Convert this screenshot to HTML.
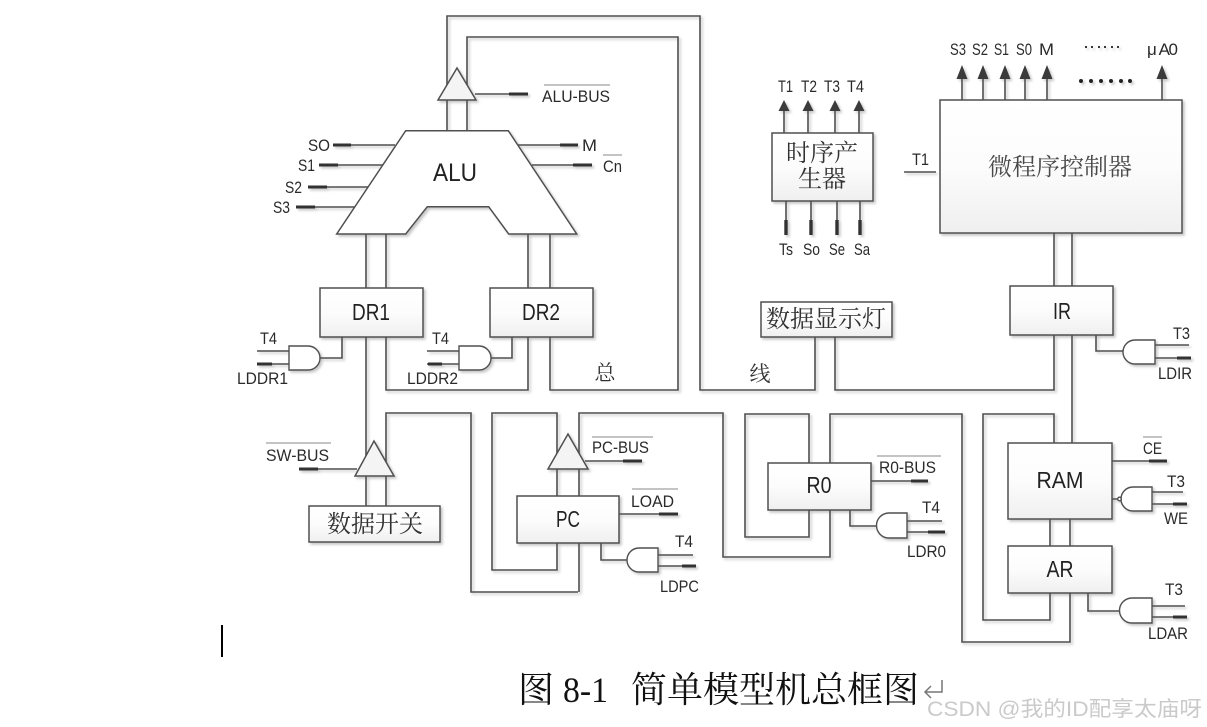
<!DOCTYPE html>
<html lang="zh">
<head>
<meta charset="utf-8">
<title>简单模型机总框图</title>
<style>
html,body{margin:0;padding:0;background:#fff;}
body{width:1207px;height:727px;overflow:hidden;}
svg{display:block;}
.l{font-family:"Liberation Sans","Noto Sans CJK SC",sans-serif;font-size:17px;fill:#2a2a2a;}
.n{font-family:"Liberation Sans","Noto Sans CJK SC",sans-serif;font-size:23px;fill:#222;text-anchor:middle;}
.z{font-family:"Liberation Serif","Noto Serif CJK SC",serif;font-size:24px;fill:#333;text-anchor:middle;}
</style>
</head>
<body>
<svg width="1207" height="727" viewBox="0 0 1207 727" xmlns="http://www.w3.org/2000/svg">
<defs>
<linearGradient id="g" x1="0" y1="0" x2="0" y2="1"><stop offset="0" stop-color="#ffffff"/><stop offset="0.5" stop-color="#fcfcfc"/><stop offset="1" stop-color="#efefef"/></linearGradient>
<filter id="s" x="-5%" y="-5%" width="110%" height="110%"><feDropShadow dx="2" dy="2" stdDeviation="1.2" flood-color="#999" flood-opacity="0.55"/></filter>
<filter id="b" x="-5%" y="-5%" width="110%" height="110%"><feGaussianBlur stdDeviation="0.35"/></filter>
</defs>
<rect width="1207" height="727" fill="#fff"/>
<g filter="url(#b)">
<g filter="url(#s)">
<g fill="none" stroke="#505050" stroke-width="1.6">
<!-- system bus -->
<path d="M447 92V16H700V390H815V337"/>
<path d="M467 92V37H678V390H550V337"/>
<path d="M447 100V131M467 100V131"/>
<path d="M366 234V288M386 234V288M528 234V288M550 234V288"/>
<path d="M386 337V390H528V337"/>
<path d="M366 337V465"/>
<path d="M835 337V390H1054V335"/>
<path d="M1054 233V286M1072 233V286"/>
<path d="M1072 335V443"/>
<!-- data switch -->
<path d="M366 476V506M386 476V506"/>
<path d="M386 476V413H471V592H578"/>
<!-- PC -->
<path d="M557 460V413H492V570H557V543"/>
<path d="M557 469V496M579 469V496"/>
<path d="M579 460V413H723V557H830V510"/>
<path d="M579 543V592"/>
<!-- R0 -->
<path d="M809 463V414H745V537H809V510"/>
<path d="M830 463V414H962V642H1070V593"/>
<!-- RAM / AR -->
<path d="M1054 443V414H983V620H1050V593"/>
<path d="M1050 519V546M1070 519V546"/>
<!-- control lines -->
<path d="M475 94H528"/>
<path d="M333 145H395M319 165H383M308 187H368M296 207H357"/>
<path d="M518 145H578M532 165H592"/>
<path d="M357 469H299M585 461H642M619 514H678M871 481H928M1112 461H1167"/>
<path d="M904 172H936"/>
<!-- timing -->
<path d="M784 133V108M808 133V108M835 133V108M859 133V108"/>
<path d="M786 201V235M811 201V235M837 201V235M860 201V235"/>
<!-- micro outputs -->
<path d="M962 100V76M983 100V76M1005 100V76M1025 100V76M1047 100V76M1162 100V76"/>
<!-- gate wires -->
<path d="M320 358H342V337M257 351H290M257 364H290"/>
<path d="M491 358H512V337M427 351H460M427 364H460"/>
<path d="M627 560H601V543M658 555H693M658 566H696"/>
<path d="M877 526H850V510M907 521H942M907 532H945"/>
<path d="M1123 351H1096V335M1155 345H1189M1155 358H1191"/>
<path d="M1112 499H1121M1152 492H1183M1152 504H1187"/>
<path d="M1120 611H1088V593M1152 606H1185M1152 617H1187"/>
</g>
<!-- thick ends -->
<g fill="none" stroke="#333" stroke-width="3">
<path d="M509 94H528M333 145H351M319 165H338M308 187H327M296 207H315M560 145H578M573 165H592"/>
<path d="M299 469H318M623 461H642M659 514H678M911 481H928M1149 461H1167"/>
<path d="M257 364H272M428 364H442M682 566H696M928 532H945M1177 358H1191M1173 504H1187M1173 617H1187"/>
<path d="M786 220V235M811 220V235M837 220V235M860 220V235" stroke-width="3.4"/>
</g>
<!-- ALU -->
<polygon points="405.7,130.7 508.3,130.7 576.7,234 508.7,234 488.7,206.7 427.3,206.7 405.7,234 336.7,234" fill="#fff" stroke="#505050" stroke-width="1.5"/>
<!-- tristate triangles -->
<g fill="#f4f4f4" stroke="#505050" stroke-width="1.5">
<polygon points="457,68 476,100 438,100"/>
<polygon points="374,441 394,476 355,476"/>
<polygon points="568,434 588,469 548,469"/>
</g>
<!-- boxes -->
<g fill="url(#g)" stroke="#505050" stroke-width="1.5">
<rect x="320" y="288" width="103" height="49"/>
<rect x="490" y="288" width="103" height="49"/>
<rect x="309" y="506" width="131" height="36"/>
<rect x="517" y="496" width="102" height="47"/>
<rect x="768" y="463" width="103" height="47"/>
<rect x="772" y="133" width="101" height="68"/>
<rect x="940" y="100" width="242" height="133"/>
<rect x="761" y="302" width="131" height="35"/>
<rect x="1010" y="286" width="103" height="49"/>
<rect x="1008" y="443" width="104" height="76"/>
<rect x="1008" y="546" width="104" height="47"/>
</g>
<!-- AND gates -->
<g fill="#fff" stroke="#505050" stroke-width="1.4">
<path d="M289 346H308A12 12 0 0 1 308 370H289Z"/>
<path d="M459 346H479A12 12 0 0 1 479 370H459Z"/>
<path d="M658 548H639A12 12 0 0 0 639 572H658Z"/>
<path d="M907 513H889A12.5 12.5 0 0 0 889 538H907Z"/>
<path d="M1155 340H1135A12 12 0 0 0 1135 364H1155Z"/>
<path d="M1152 487H1133A12 12 0 0 0 1133 511H1152Z"/>
<path d="M1152 598H1132A12.5 12.5 0 0 0 1132 623H1152Z"/>
<circle cx="1119.5" cy="499" r="1.8"/>
</g>
<!-- arrowheads -->
<g fill="#3a3a3a">
<polygon points="784,100 789.5,111 778.5,111"/><polygon points="808,100 813.5,111 802.5,111"/><polygon points="835,100 840.5,111 829.5,111"/><polygon points="859,100 864.5,111 853.5,111"/>
<polygon points="962,65 967.5,79 956.5,79"/><polygon points="983,65 988.5,79 977.5,79"/><polygon points="1005,65 1010.5,79 999.5,79"/><polygon points="1025,65 1030.5,79 1019.5,79"/><polygon points="1047,65 1052.5,79 1041.5,79"/><polygon points="1162,65 1167.5,79 1156.5,79"/>
</g>
<g fill="#222">
<circle cx="1081" cy="81" r="2"/><circle cx="1091" cy="81" r="2"/><circle cx="1101" cy="81" r="2"/><circle cx="1111" cy="81" r="2"/><circle cx="1121" cy="81" r="2"/><circle cx="1130" cy="81" r="2"/>
<circle cx="1086" cy="47" r="1.1"/><circle cx="1092" cy="47" r="1.1"/><circle cx="1099" cy="47" r="1.1"/><circle cx="1105" cy="47" r="1.1"/><circle cx="1112" cy="47" r="1.1"/><circle cx="1118" cy="47" r="1.1"/>
</g>
</g>
<!-- overlines -->
<g stroke="#8a8a8a" stroke-width="1" fill="none">
<path d="M544 85H610M603 155H622M266 443H331M592 437H653M632 489H678M877 456H941M1143 437H1162"/>
</g>
<!-- block labels -->
<text class="n" x="455" y="181" style="font-size:25px" textLength="44" lengthAdjust="spacingAndGlyphs">ALU</text>
<text class="n" x="371" y="320" textLength="38" lengthAdjust="spacingAndGlyphs">DR1</text>
<text class="n" x="541" y="320" textLength="38" lengthAdjust="spacingAndGlyphs">DR2</text>
<text class="n" x="568" y="527" textLength="24" lengthAdjust="spacingAndGlyphs">PC</text>
<text class="n" x="819" y="493" textLength="25" lengthAdjust="spacingAndGlyphs">R0</text>
<text class="n" x="1062" y="319" textLength="18" lengthAdjust="spacingAndGlyphs">IR</text>
<text class="n" x="1060" y="488" textLength="47" lengthAdjust="spacingAndGlyphs">RAM</text>
<text class="n" x="1060" y="577" textLength="27" lengthAdjust="spacingAndGlyphs">AR</text>
<text class="z" x="375" y="532">数据开关</text>
<text class="z" x="826" y="327">数据显示灯</text>
<text class="z" x="822" y="161">时序产</text>
<text class="z" x="822" y="187">生器</text>
<text class="z" x="1060" y="175" style="fill:#4a4a4a">微程序控制器</text>
<text class="z" x="605" y="380" style="font-size:21px">总</text>
<text class="z" x="760" y="381" style="font-size:21px">线</text>
<!-- signal labels -->
<g class="l">
<text x="308" y="151" textLength="22" lengthAdjust="spacingAndGlyphs">SO</text>
<text x="298" y="171" textLength="17" lengthAdjust="spacingAndGlyphs">S1</text>
<text x="285" y="193" textLength="17" lengthAdjust="spacingAndGlyphs">S2</text>
<text x="273" y="213" textLength="17" lengthAdjust="spacingAndGlyphs">S3</text>
<text x="582" y="151" textLength="15" lengthAdjust="spacingAndGlyphs">M</text>
<text x="603" y="172" textLength="19" lengthAdjust="spacingAndGlyphs">Cn</text>
<text x="542" y="102" textLength="68" lengthAdjust="spacingAndGlyphs">ALU-BUS</text>
<text x="260" y="344" textLength="17" lengthAdjust="spacingAndGlyphs">T4</text>
<text x="237" y="384" textLength="51" lengthAdjust="spacingAndGlyphs">LDDR1</text>
<text x="432" y="344" textLength="17" lengthAdjust="spacingAndGlyphs">T4</text>
<text x="407" y="384" textLength="51" lengthAdjust="spacingAndGlyphs">LDDR2</text>
<text x="266" y="461" textLength="63" lengthAdjust="spacingAndGlyphs">SW-BUS</text>
<text x="592" y="453" textLength="57" lengthAdjust="spacingAndGlyphs">PC-BUS</text>
<text x="631" y="507" textLength="43" lengthAdjust="spacingAndGlyphs">LOAD</text>
<text x="675" y="547" textLength="18" lengthAdjust="spacingAndGlyphs">T4</text>
<text x="660" y="592" textLength="39" lengthAdjust="spacingAndGlyphs">LDPC</text>
<text x="879" y="473" textLength="57" lengthAdjust="spacingAndGlyphs">R0-BUS</text>
<text x="922" y="513" textLength="18" lengthAdjust="spacingAndGlyphs">T4</text>
<text x="907" y="557" textLength="39" lengthAdjust="spacingAndGlyphs">LDR0</text>
<text x="1143" y="454" textLength="19" lengthAdjust="spacingAndGlyphs">CE</text>
<text x="1167" y="487" textLength="18" lengthAdjust="spacingAndGlyphs">T3</text>
<text x="1164" y="524" textLength="24" lengthAdjust="spacingAndGlyphs">WE</text>
<text x="1165" y="595" textLength="18" lengthAdjust="spacingAndGlyphs">T3</text>
<text x="1148" y="639" textLength="40" lengthAdjust="spacingAndGlyphs">LDAR</text>
<text x="1173" y="339" textLength="17" lengthAdjust="spacingAndGlyphs">T3</text>
<text x="1158" y="379" textLength="34" lengthAdjust="spacingAndGlyphs">LDIR</text>
<text x="912" y="165" textLength="17" lengthAdjust="spacingAndGlyphs">T1</text>
<text x="778" y="92" textLength="15" lengthAdjust="spacingAndGlyphs">T1</text>
<text x="801" y="92" textLength="16" lengthAdjust="spacingAndGlyphs">T2</text>
<text x="824" y="92" textLength="16" lengthAdjust="spacingAndGlyphs">T3</text>
<text x="847" y="92" textLength="17" lengthAdjust="spacingAndGlyphs">T4</text>
<text x="779" y="255" textLength="14" lengthAdjust="spacingAndGlyphs">Ts</text>
<text x="803" y="255" textLength="17" lengthAdjust="spacingAndGlyphs">So</text>
<text x="829" y="255" textLength="16" lengthAdjust="spacingAndGlyphs">Se</text>
<text x="854" y="255" textLength="16" lengthAdjust="spacingAndGlyphs">Sa</text>
<text x="950" y="55" textLength="16" lengthAdjust="spacingAndGlyphs">S3</text>
<text x="972" y="55" textLength="16" lengthAdjust="spacingAndGlyphs">S2</text>
<text x="994" y="55" textLength="15" lengthAdjust="spacingAndGlyphs">S1</text>
<text x="1016" y="55" textLength="16" lengthAdjust="spacingAndGlyphs">S0</text>
<text x="1039" y="55" textLength="15" lengthAdjust="spacingAndGlyphs">M</text>
<text x="1147" y="55" textLength="31" lengthAdjust="spacing">μ A0</text>
</g>
</g>
<!-- caret -->
<rect x="221" y="625" width="2" height="32" fill="#000"/>
<!-- caption -->
<g font-family="'Liberation Serif','Noto Serif CJK SC',serif" font-size="36" fill="#111">
<text x="518" y="702">图</text>
<text x="563" y="702" textLength="45" lengthAdjust="spacingAndGlyphs">8-1</text>
<text x="631" y="702">简单模型机总框图</text>
</g>
<path d="M942 680V692H925M931 686L925 692L931 698" fill="none" stroke="#777" stroke-width="1.5"/>
<!-- watermark -->
<text x="927" y="716" font-family="'Liberation Sans','Noto Sans CJK SC',sans-serif" font-size="21" fill="#cacaca" textLength="275" lengthAdjust="spacingAndGlyphs">CSDN @我的ID配享太庙呀</text>
</svg>
</body>
</html>
